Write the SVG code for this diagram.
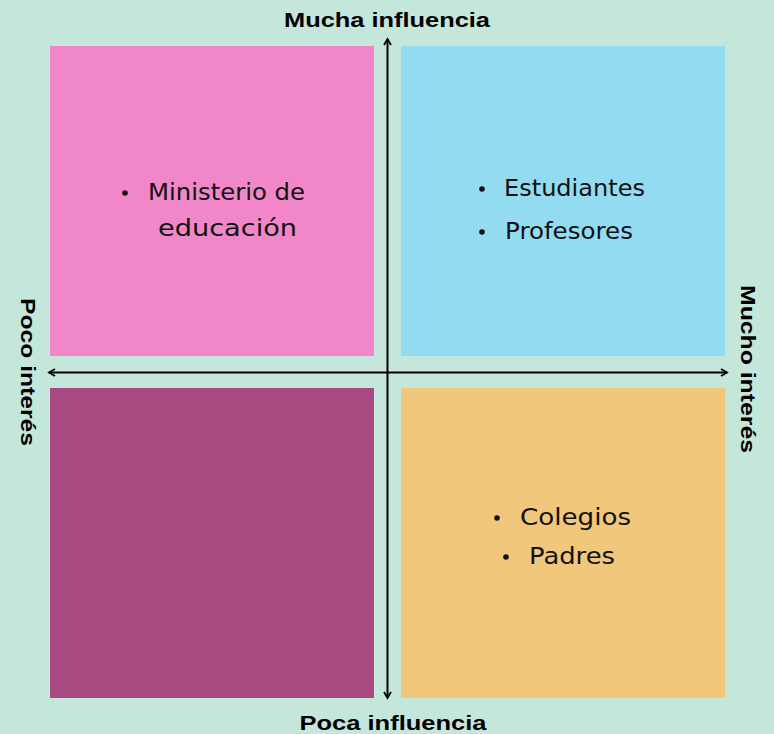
<svg xmlns="http://www.w3.org/2000/svg" width="774" height="734" viewBox="0 0 774 734">
<defs>
<marker id="ah" markerWidth="10" markerHeight="10" refX="8" refY="5" orient="auto" markerUnits="userSpaceOnUse">
<path d="M2,1.5 L8,5 L2,8.5" fill="none" stroke="#000" stroke-width="1.8"/>
</marker>
<style>
.lbl{font-family:"Liberation Sans",Arial,sans-serif;font-weight:bold;font-size:20px;fill:#000}
.item{font-family:"DejaVu Sans","Liberation Sans",sans-serif;font-weight:normal;font-size:23.5px;fill:#111}
.ax{stroke:#000;stroke-width:2;fill:none}
</style>
</defs>
<rect width="774" height="734" fill="#c5e6da"/>
<g id="q-top-left"><rect x="50" y="46" width="324" height="310" fill="#f186c8"/>
<circle cx="125" cy="193" r="2.8" fill="#111"/>
<text class="item" x="148" y="200" textLength="157" lengthAdjust="spacingAndGlyphs">Ministerio de</text>
<text class="item" x="158" y="236" textLength="139" lengthAdjust="spacingAndGlyphs">educación</text></g>
<g id="q-top-right"><rect x="401" y="46" width="324" height="310" fill="#93dbf0"/>
<circle cx="482" cy="189" r="2.8" fill="#111"/>
<text class="item" x="504" y="196" textLength="141" lengthAdjust="spacingAndGlyphs">Estudiantes</text>
<circle cx="482" cy="232" r="2.8" fill="#111"/>
<text class="item" x="505" y="239" textLength="128" lengthAdjust="spacingAndGlyphs">Profesores</text></g>
<g id="q-bottom-left"><rect x="50" y="388" width="324" height="310" fill="#a84981"/></g>
<g id="q-bottom-right"><rect x="401" y="388" width="324" height="310" fill="#f0c77b"/>
<circle cx="497" cy="518" r="2.8" fill="#111"/>
<text class="item" x="520" y="525" textLength="111" lengthAdjust="spacingAndGlyphs">Colegios</text>
<circle cx="506" cy="557" r="2.8" fill="#111"/>
<text class="item" x="529" y="564" textLength="86" lengthAdjust="spacingAndGlyphs">Padres</text></g>
<g id="connectors">
<line class="ax" x1="387.5" y1="372" x2="387.5" y2="39" marker-end="url(#ah)"/>
<line class="ax" x1="387.5" y1="372" x2="387.5" y2="698" marker-end="url(#ah)"/>
<line class="ax" x1="387.5" y1="372.5" x2="49" y2="372.5" marker-end="url(#ah)"/>
<line class="ax" x1="387.5" y1="372.5" x2="727" y2="372.5" marker-end="url(#ah)"/>
</g>
<g id="labels">
<text class="lbl" x="387" y="27" text-anchor="middle" textLength="206" lengthAdjust="spacingAndGlyphs">Mucha influencia</text>
<text class="lbl" x="393" y="730" text-anchor="middle" textLength="187" lengthAdjust="spacingAndGlyphs">Poca influencia</text>
<text class="lbl" transform="translate(21,372) rotate(90)" text-anchor="middle" textLength="148" lengthAdjust="spacingAndGlyphs">Poco interés</text>
<text class="lbl" transform="translate(741,369) rotate(90)" text-anchor="middle" textLength="168" lengthAdjust="spacingAndGlyphs">Mucho interés</text>
</g>
</svg>
